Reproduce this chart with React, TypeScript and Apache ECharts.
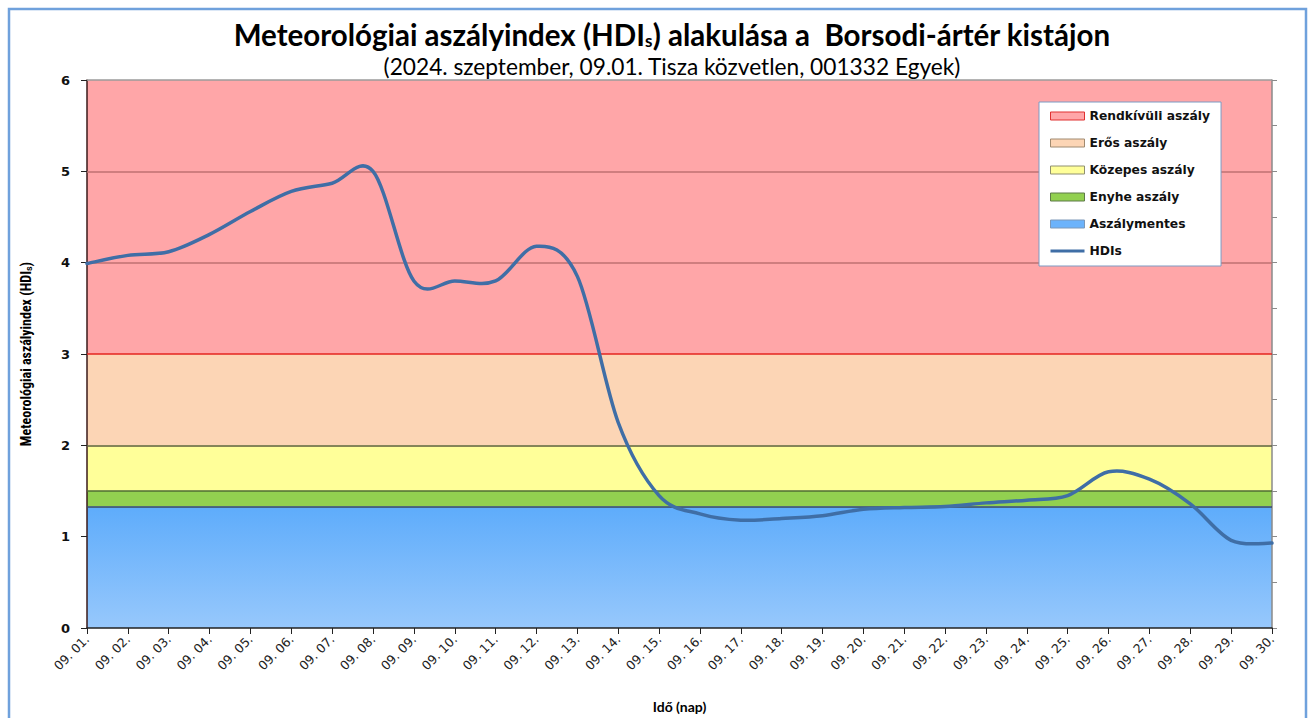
import React, { useEffect, useRef } from "react";
import * as echarts from "echarts";

const categories = [
  "09. 01.", "09. 02.", "09. 03.", "09. 04.", "09. 05.", "09. 06.", "09. 07.", "09. 08.", "09. 09.", "09. 10.",
  "09. 11.", "09. 12.", "09. 13.", "09. 14.", "09. 15.", "09. 16.", "09. 17.", "09. 18.", "09. 19.", "09. 20.",
  "09. 21.", "09. 22.", "09. 23.", "09. 24.", "09. 25.", "09. 26.", "09. 27.", "09. 28.", "09. 29.", "09. 30.",
];
const hdiValues = [
  3.99, 4.08, 4.12, 4.31, 4.56, 4.78, 4.87, 5.0, 3.8, 3.8,
  3.8, 4.18, 3.85, 2.25, 1.45, 1.25, 1.18, 1.2, 1.23, 1.3,
  1.32, 1.33, 1.37, 1.4, 1.45, 1.71, 1.63, 1.36, 0.96, 0.93,
];
const bandNames = ["Rendkívüli aszály", "Erős aszály", "Közepes aszály", "Enyhe aszály", "Aszálymentes"];
const bandLower = [3, 2, 1.5, 1.33, 0];
const bandUpper = [6, 3, 2, 1.5, 1.33];
const gridLineValues = [4, 5];
const yMin = 0;
const yMax = 6;

const bandFill: any[] = [
  "#ffa6a8",
  "#fcd5b5",
  "#ffff99",
  "#92d050",
  new echarts.graphic.LinearGradient(0, 0, 0, 1, [
    { offset: 0, color: "#5eacfb" },
    { offset: 1, color: "#97c8fc" },
  ]),
];
const bandLegendFill = ["#ffa6a8", "#fcd5b5", "#ffff99", "#92d050", "#6cb3fb"];
const bandLegendBorder = ["#e03030", "#a08a70", "#909070", "#5f7a48", "#7c98b8"];
const bandTopLine = ["#9b9b9b", "#e52420", "#5c5c40", "#4f6c34", "#3a4a5c"];
const hdiColor = "#3f6ea6";

const FONT = "Lato, 'Open Sans', sans-serif";
const DEJAVU = "'DejaVu Sans', Verdana, sans-serif";

export default function App() {
  const ref = useRef<HTMLDivElement>(null);
  useEffect(() => {
    if (!ref.current) return;
    const chart = echarts.init(ref.current, undefined, { renderer: "svg" });

    const bandSeries = bandNames.map((name, i) => ({
      name,
      type: "line",
      data: [],
      z: 1,
      symbol: "none",
      itemStyle: { color: bandLegendFill[i], borderColor: bandLegendBorder[i] },
      lineStyle: { color: bandLegendFill[i] },
      markArea: {
        silent: true,
        z: 0,
        itemStyle: { color: bandFill[i], borderWidth: 0 },
        data: [[{ yAxis: bandLower[i] }, { yAxis: bandUpper[i] }]],
      },
      markLine: {
        silent: true,
        z: 1,
        symbol: ["none", "none"],
        label: { show: false },
        lineStyle: { color: bandTopLine[i], width: 1.5, type: "solid" },
        data: [{ yAxis: bandUpper[i] }],
      },
    }));

    // Excel-like smoothed line (Catmull-Rom through the data points, placed via the axes)
    const renderHdi = (params: any, api: any) => {
      if (params.dataIndex !== 0) return null;
      const n = hdiValues.length;
      const pts = hdiValues.map((v, i) => api.coord([i, v]));
      let d = `M${pts[0][0]},${pts[0][1]}`;
      for (let i = 0; i < n - 1; i++) {
        const p0 = pts[Math.max(i - 1, 0)];
        const p1 = pts[i];
        const p2 = pts[i + 1];
        const p3 = pts[Math.min(i + 2, n - 1)];
        const c1x = p1[0] + (p2[0] - p0[0]) / 6;
        const c1y = p1[1] + (p2[1] - p0[1]) / 6;
        const c2x = p2[0] - (p3[0] - p1[0]) / 6;
        const c2y = p2[1] - (p3[1] - p1[1]) / 6;
        d += ` C${c1x},${c1y} ${c2x},${c2y} ${p2[0]},${p2[1]}`;
      }
      return {
        type: "path",
        shape: { pathData: d },
        style: { fill: "none", stroke: hdiColor, lineWidth: 3.5, lineJoin: "round", lineCap: "round" },
        silent: true,
      };
    };

    const option: any = {
      animation: false,
      backgroundColor: "#ffffff",
      title: [
        {
          text: "Meteorológiai aszályindex (HDI{s|s}) alakulása a  Borsodi-ártér kistájon",
          left: 667,
          top: 14,
          textAlign: "center",
          textStyle: {
            fontFamily: FONT,
            fontWeight: "bold",
            fontSize: 29.5,
            color: "#000",
            rich: {
              s: { fontFamily: FONT, fontWeight: "bold", fontSize: 17, color: "#000", verticalAlign: "bottom", padding: [12, 0, 0, 0] },
            },
          },
        },
        {
          text: "(2024. szeptember, 09.01. Tisza közvetlen, 001332 Egyek)",
          left: 667,
          top: 50,
          textAlign: "center",
          textStyle: { fontFamily: FONT, fontWeight: "normal", fontSize: 22.7, color: "#000" },
        },
      ],
      graphic: [
        {
          type: "rect",
          shape: { x: 9, y: 9, width: 1297, height: 730 },
          style: { fill: "none", stroke: "#6fa1dc", lineWidth: 2.5 },
          silent: true,
        },
      ],
      legend: {
        orient: "vertical",
        left: 1039,
        top: 102,
        padding: [6, 11, 7, 11],
        itemWidth: 34,
        itemHeight: 8,
        itemGap: 11,
        backgroundColor: "#ffffff",
        borderColor: "#7d9bc3",
        borderWidth: 1,
        borderRadius: 0,
        textStyle: { fontFamily: DEJAVU, fontWeight: "bold", fontSize: 12.3, color: "#111", lineHeight: 16 },
        data: [
          ...bandNames.map((name, i) => ({
            name,
            icon: "rect",
            itemStyle: { color: bandLegendFill[i], borderColor: bandLegendBorder[i], borderWidth: 1 },
          })),
          {
            name: "HDIs",
            icon: "path://M0,0H34V3H0Z",
            itemStyle: { color: hdiColor, borderWidth: 0 },
          },
        ],
      },
      grid: { left: 87, right: 39, top: 80, bottom: 84, containLabel: false },
      xAxis: {
        type: "category",
        data: categories,
        boundaryGap: false,
        name: "Idő (nap)",
        nameLocation: "middle",
        nameGap: 71,
        nameTextStyle: { fontFamily: FONT, fontWeight: "bold", fontSize: 14, color: "#000" },
        axisLine: { show: true, lineStyle: { color: "#222", width: 1.5 } },
        axisTick: { show: true, alignWithLabel: true, length: 6, lineStyle: { color: "#222" } },
        axisLabel: {
          rotate: 45,
          interval: 0,
          margin: 9,
          fontFamily: DEJAVU,
          fontSize: 12.5,
          color: "#222",
        },
        splitLine: { show: false },
      },
      yAxis: [
        {
          type: "value",
          min: yMin,
          max: yMax,
          interval: 1,
          name: "Meteorológiai aszályindex (HDI{s|s})",
          nameLocation: "middle",
          nameGap: 54,
          nameTextStyle: {
            fontFamily: "'Liberation Sans Narrow', 'Roboto Condensed', Roboto, sans-serif",
            fontWeight: "bold",
            fontSize: 14,
            color: "#000",
            rich: {
              s: {
                fontFamily: "'Liberation Sans Narrow', Roboto, sans-serif",
                fontWeight: "bold",
                fontSize: 9,
                color: "#000",
                verticalAlign: "bottom",
                padding: [6, 0, 0, 0],
              },
            },
          },
          axisLine: { show: true, lineStyle: { color: "#3a1a1a", width: 1.5 } },
          axisTick: { show: true, length: 6, lineStyle: { color: "#222" } },
          axisLabel: {
            margin: 17,
            fontFamily: DEJAVU,
            fontWeight: "bold",
            fontSize: 13,
            color: "#111",
          },
          splitLine: { show: false },
        },
        {
          type: "value",
          position: "right",
          min: yMin,
          max: yMax,
          interval: 0.5,
          axisLine: { show: true, lineStyle: { color: "#8a8a8a", width: 1.5 } },
          axisTick: { show: true, length: 5, lineStyle: { color: "#8a8a8a" } },
          axisLabel: { show: false },
          splitLine: { show: false },
        },
      ],
      series: [
        ...bandSeries,
        {
          name: "HDIs",
          type: "custom",
          data: hdiValues.map((v, i) => [i, v]),
          encode: { x: 0, y: 1 },
          z: 5,
          clip: false,
          itemStyle: { color: hdiColor },
          renderItem: renderHdi,
          markLine: {
            silent: true,
            z: 1,
            symbol: ["none", "none"],
            label: { show: false },
            lineStyle: { color: "#bf7072", width: 1.5, type: "solid" },
            data: gridLineValues.map((v) => ({ yAxis: v })),
          },
        },
      ],
    };
    chart.setOption(option);
    return () => chart.dispose();
  }, []);
  return (
    <div
      ref={ref}
      style={{ position: "absolute", left: 0, top: 0, width: 1311, height: 718 }}
    />
  );
}
